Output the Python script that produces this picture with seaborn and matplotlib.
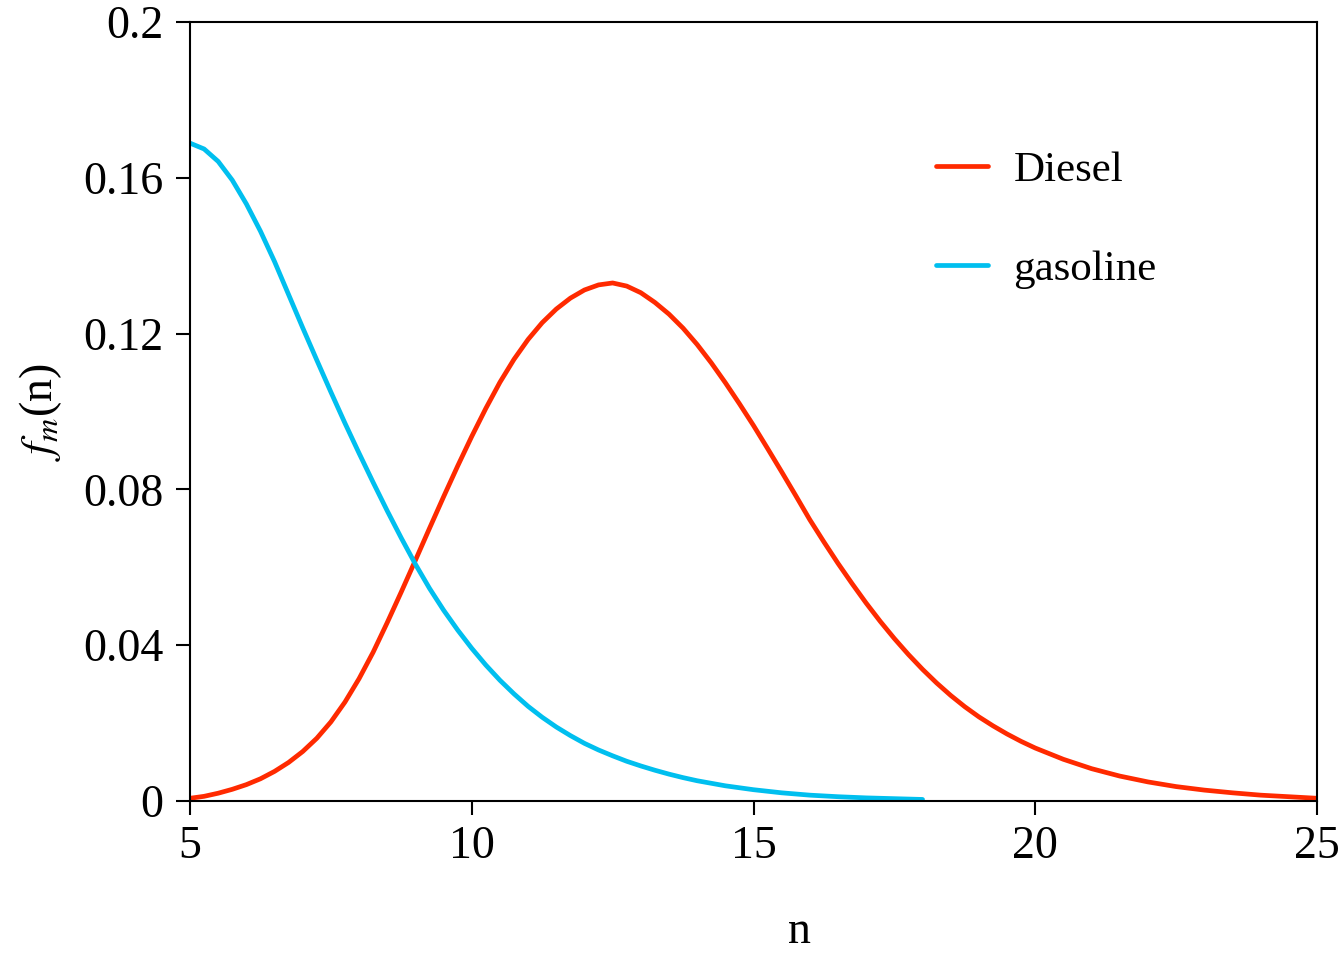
import numpy as np
import pandas as pd
import matplotlib
matplotlib.use("Agg")
import matplotlib.pyplot as plt
import seaborn as sns

# ---- data ----
diesel_n = [5.00, 5.25, 5.50, 5.75, 6.00, 6.25, 6.50, 6.75, 7.00, 7.25, 7.50, 7.75,
            8.00, 8.25, 8.50, 8.75, 9.00, 9.25, 9.50, 9.75, 10.00, 10.25, 10.50, 10.75,
            11.00, 11.25, 11.50, 11.75, 12.00, 12.25, 12.50, 12.75, 13.00, 13.25, 13.50,
            13.75, 14.00, 14.25, 14.50, 14.75, 15.00, 15.25, 15.50, 15.75, 16.00, 16.25,
            16.50, 16.75, 17.00, 17.25, 17.50, 17.75, 18.00, 18.25, 18.50, 18.75, 19.00,
            19.25, 19.50, 19.75, 20.00, 20.50, 21.00, 21.50, 22.00, 22.50, 23.00, 23.50,
            24.00, 24.50, 25.00]
diesel_f = [0.0007, 0.0012, 0.0020, 0.0030, 0.0042, 0.0057, 0.0076, 0.0099, 0.0127,
            0.0161, 0.0203, 0.0254, 0.0314, 0.0382, 0.0458, 0.0537, 0.0618, 0.0700,
            0.0781, 0.0860, 0.0936, 0.1008, 0.1075, 0.1134, 0.1185, 0.1228, 0.1263,
            0.1291, 0.1312, 0.1325, 0.1330, 0.1322, 0.1305, 0.1280, 0.1250, 0.1214,
            0.1172, 0.1125, 0.1074, 0.1020, 0.0964, 0.0905, 0.0845, 0.0784, 0.0722,
            0.0665, 0.0610, 0.0558, 0.0508, 0.0461, 0.0417, 0.0376, 0.0338, 0.0303,
            0.0271, 0.0242, 0.0216, 0.0193, 0.0172, 0.0153, 0.0136, 0.0107, 0.0083,
            0.0064, 0.0049, 0.0037, 0.0028, 0.0021, 0.0015, 0.0011, 0.0007]
gasoline_n = [5.00, 5.25, 5.50, 5.75, 6.00, 6.25, 6.50, 6.75, 7.00, 7.25, 7.50, 7.75,
              8.00, 8.25, 8.50, 8.75, 9.00, 9.25, 9.50, 9.75, 10.00, 10.25, 10.50, 10.75,
              11.00, 11.25, 11.50, 11.75, 12.00, 12.25, 12.50, 12.75, 13.00, 13.25, 13.50,
              13.75, 14.00, 14.50, 15.00, 15.50, 16.00, 16.50, 17.00, 17.50, 18.00]
gasoline_f = [0.1689, 0.1674, 0.1642, 0.1594, 0.1533, 0.1463, 0.1385, 0.1300, 0.1215,
              0.1132, 0.1050, 0.0970, 0.0893, 0.0818, 0.0745, 0.0675, 0.0608, 0.0546,
              0.0490, 0.0439, 0.0392, 0.0349, 0.0310, 0.0275, 0.0243, 0.0215, 0.0190,
              0.0168, 0.0148, 0.0131, 0.0116, 0.0102, 0.0090, 0.0079, 0.0069, 0.0060,
              0.0052, 0.0039, 0.0029, 0.0021, 0.0015, 0.0011, 0.0008, 0.0006, 0.0004]
series_names = ["Diesel", "gasoline"]
series_colors = ["#FF2A00", "#00BFEF"]
x_ticks = [5, 10, 15, 20, 25]
y_ticks = [0, 0.04, 0.08, 0.12, 0.16, 0.2]
y_tick_labels = ["0", "0.04", "0.08", "0.12", "0.16", "0.2"]

df = pd.concat([
    pd.DataFrame({"n": diesel_n, "f": diesel_f, "fuel": series_names[0]}),
    pd.DataFrame({"n": gasoline_n, "f": gasoline_f, "fuel": series_names[1]}),
], ignore_index=True)

sns.set_theme(style="ticks")
plt.rcParams["font.family"] = ["Liberation Serif", "DejaVu Serif"]
plt.rcParams["mathtext.fontset"] = "stix"
plt.rcParams["text.color"] = "black"
plt.rcParams["axes.labelcolor"] = "black"

fig = plt.figure(figsize=(13.42, 9.56), dpi=100)
ax = fig.add_axes([190 / 1342, 1 - 801 / 956, (1317 - 190) / 1342, (801 - 22) / 956])

sns.lineplot(data=df, x="n", y="f", hue="fuel", palette=dict(zip(series_names, series_colors)),
             linewidth=3.4, ax=ax, sort=False)

ax.set_xlim(5, 25)
ax.set_ylim(0, 0.2)
ax.set_xticks(x_ticks)
ax.set_xticklabels([str(t) for t in x_ticks])
ax.set_yticks(y_ticks)
ax.set_yticklabels(y_tick_labels)
ax.tick_params(axis="both", direction="out", length=10, width=1.5, labelsize=33,
               colors="black", labelcolor="black")
ax.tick_params(axis="x", pad=8)
ax.tick_params(axis="y", pad=9)
for s in ax.spines.values():
    s.set_visible(True)
    s.set_linewidth(1.5)
    s.set_color("black")

ax.set_xlabel("n", fontsize=33, color="black")
ax.xaxis.set_label_coords(0.541, -0.14)
ax.set_ylabel(r"$f_m$(n)", fontsize=33, labelpad=14, color="black")

leg = ax.legend(loc="upper left", bbox_to_anchor=(0.662, 0.835), frameon=False,
                fontsize=31, handlelength=1.2, handletextpad=0.6, labelspacing=1.4,
                borderpad=0, borderaxespad=0)
for t in leg.get_texts():
    t.set_color("black")
for line in leg.get_lines():
    line.set_linewidth(3.4)

fig.savefig("out.png", dpi=100, facecolor="white")
